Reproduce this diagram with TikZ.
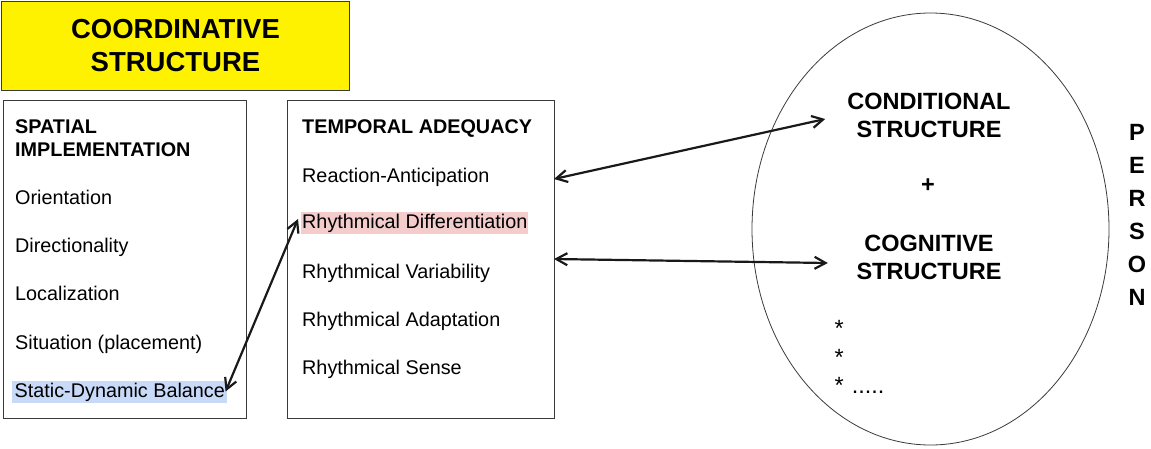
\documentclass[tikz,border=0pt]{standalone}
\usepackage{fontspec}
\setmainfont{Liberation Sans}
\usepackage{tikz}
\usetikzlibrary{arrows.meta,positioning,shapes.geometric}
\definecolor{hlblue}{HTML}{C9DAF8}
\definecolor{hlpink}{HTML}{F4CCCC}
\definecolor{boxline}{HTML}{3A3A3A}
\tikzstyle{listbox}=[draw=boxline,line width=0.9pt,inner sep=0pt]
\tikzstyle{item}=[anchor=base west,inner xsep=2pt,inner ysep=0.5pt,text height=16pt,text depth=5pt,font=\fontsize{19.8}{23}\selectfont]
\tikzstyle{head}=[anchor=base west,inner sep=2pt,font=\bfseries\fontsize{19.8}{23.4}\selectfont]
\tikzstyle{big}=[align=center,inner sep=2pt,font=\bfseries\fontsize{23.5}{28}\selectfont]
\tikzstyle{starry}=[anchor=base west,inner sep=0pt,font=\fontsize{23.5}{28}\selectfont]
\tikzstyle{link}=[<->,draw=black!90,line width=2.2pt,>={Straight Barb[length=11pt,width=12pt]}]

\begin{document}
\begin{tikzpicture}[x=1pt,y=-1pt]
\useasboundingbox (0,0) rectangle (1151,448);
\node[draw=boxline,fill=yellow,line width=0.9pt,minimum width=348pt,minimum height=89pt,anchor=north west,align=center,font=\bfseries\fontsize{27.5}{33}\selectfont] (title) at (1,1) {COORDINATIVE\\STRUCTURE};
% spatial implementation
\node[listbox,minimum width=243pt,minimum height=318pt,anchor=north west] (spatial) at (3,100) {};
\node[align=left,anchor=west,inner sep=2pt,font=\bfseries\fontsize{19.8}{23.4}\selectfont] (spathead) at (13,137.9) {SPATIAL\\IMPLEMENTATION};
\node[item] (orient) at (13,204) {Orientation};
\node[item] (direct) at (13,252.3) {Directionality};
\node[item] (local) at (13,300.6) {Localization};
\node[item] (situ) at (13,349) {Situation (placement)};
\node[item,fill=hlblue,inner xsep=2.5pt] (balance) at (12,397) {Static-Dynamic Balance};
% temporal adequacy
\node[listbox,minimum width=267pt,minimum height=318pt,anchor=north west] (temporal) at (287,100) {};
\node[head] (temphead) at (300,133) {TEMPORAL ADEQUACY};
\node[item] (react) at (300,182) {Reaction-Anticipation};
\node[item,fill=hlpink,inner xsep=1pt] (rdiff) at (301,228.5) {Rhythmical Differentiation};
\node[item] (rvar) at (300,278) {Rhythmical Variability};
\node[item] (radapt) at (300,326.5) {Rhythmical Adaptation};
\node[item] (rsense) at (300,374.3) {Rhythmical Sense};
% person
\node[draw=boxline,ellipse,line width=0.8pt,minimum width=357pt,minimum height=432pt,inner sep=0pt] (person) at (930.5,229) {};
\node[big] (cond) at (929,115) {CONDITIONAL\\STRUCTURE};
\node[big] (plus) at (928,186) {+};
\node[big] (cog) at (929,257) {COGNITIVE\\STRUCTURE};
\node[starry] (star1) at (834.5,336.5) {*};
\node[starry] (star2) at (834.5,365.5) {*};
\node[starry] (star3) at (834.5,393.5) {*\hspace{8pt}.....};
\node[align=center,font=\bfseries\fontsize{23.5}{33}\selectfont] (word) at (1137,214.5) {P\\E\\R\\S\\O\\N};
\coordinate (upper) at (554,179);
\coordinate (lower) at (554,259);
\draw[link] ([xshift=-2pt]balance.east) -- ([shift={(-3pt,4pt)}]rdiff.west);
\draw[link] (upper) -- ([shift={(-20pt,-4pt)}]cond.west);
\draw[link] (lower) -- ([shift={(-26.5pt,-6pt)}]cog.west);
\end{tikzpicture}
\end{document}
